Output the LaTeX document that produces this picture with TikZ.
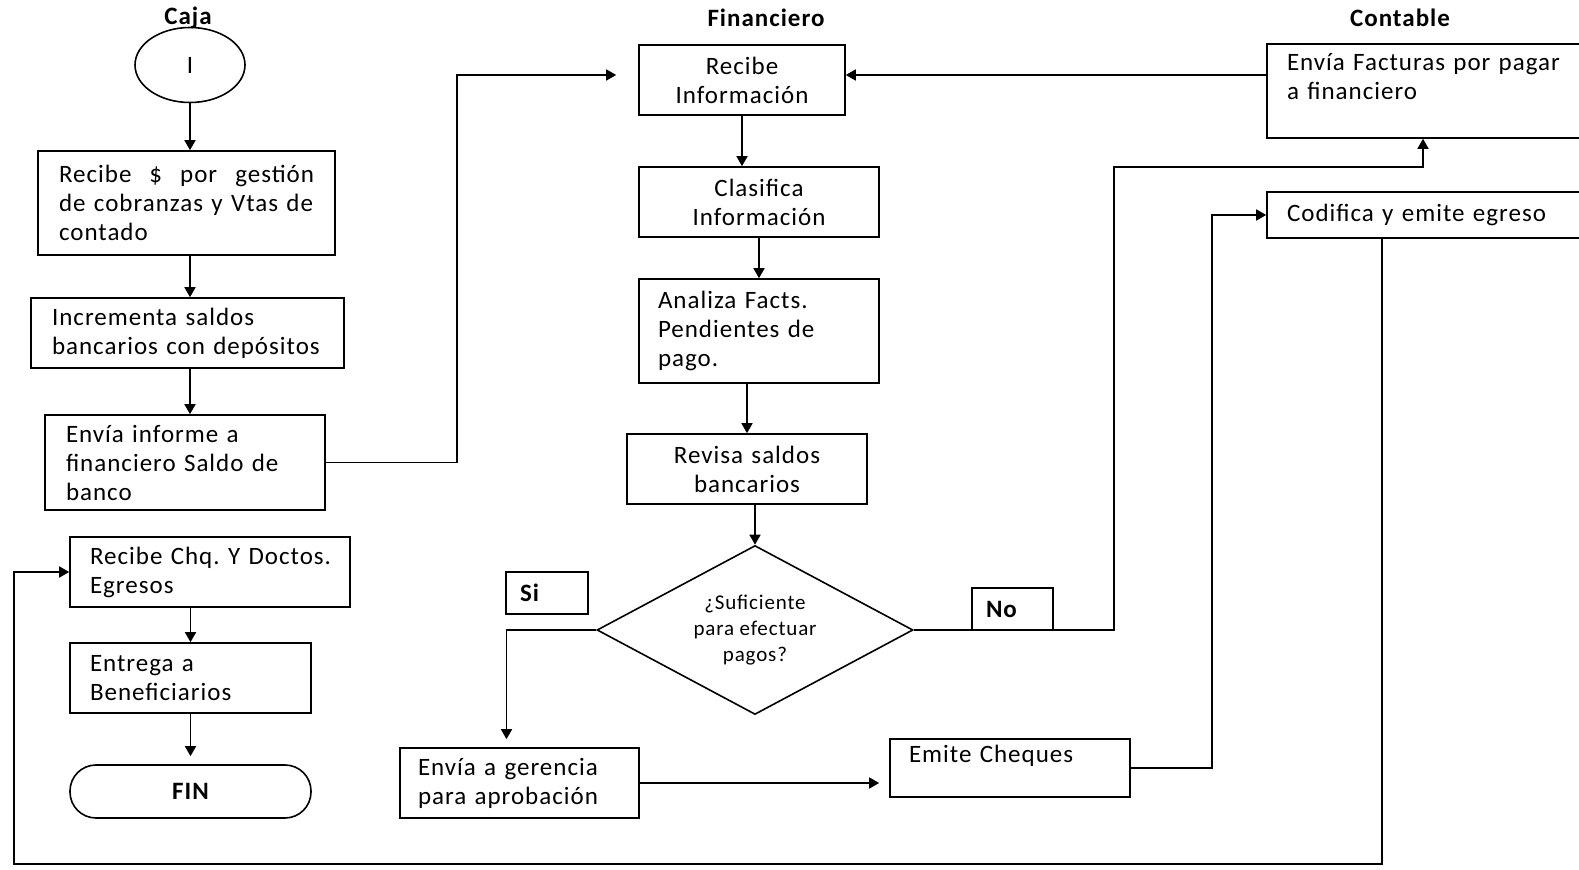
\documentclass[tikz,border=0pt]{standalone}
\usepackage{fontspec}
\setmainfont{Carlito}[LetterSpace=4]
\usetikzlibrary{shapes.geometric,arrows.meta}

\tikzset{
  every node/.style={font=\fontsize{12.5}{14.5}\selectfont\frenchspacing},
  titulo/.style={font=\fontsize{12.5}{14.5}\selectfont\bfseries},
  caja/.style={draw, rectangle, line width=0.8pt, align=left, inner ysep=0pt},
  cajac/.style={draw, rectangle, line width=0.8pt, align=center, inner xsep=3pt, inner ysep=0pt},
  etiq/.style={draw, rectangle, line width=0.8pt, align=left, inner ysep=0pt, font=\fontsize{12.5}{14.5}\selectfont\bfseries},
}

\begin{document}
\begin{tikzpicture}[x=0.5pt, y=-0.5pt, line width=0.8pt, >={Triangle[length=5pt,width=5.5pt]}]

        \clip (0,0) rectangle (1579,870);

        \node[titulo] (tcaja) at (188,18) {Caja};
        \node[titulo] (tfin) at (766,18) {Financiero};
        \node[titulo] (tcont) at (1400,18) {Contable};

        \node[draw, ellipse, minimum width=55pt, minimum height=37.5pt, inner sep=0pt] (ini) at (190,65) {I};
        \node[caja, text width=127.5pt, inner xsep=10.5pt, minimum height=52pt] (b1) at (186.5,203) {Recibe \hfill \$ \hfill por \hfill gestión\\de cobranzas y Vtas de\\contado};
        \node[caja, text width=135.5pt, inner xsep=10.5pt, minimum height=35pt] (b2) at (187.5,333) {Incrementa saldos\\bancarios con depósitos};
        \node[caja, text width=119pt, inner xsep=10.5pt, minimum height=47.5pt] (b3) at (185,462.5) {Envía informe a\\financiero Saldo de\\banco};
        \node[caja, text width=120pt, inner xsep=10pt, minimum height=35pt] (recchq) at (210,572) {\mbox{Recibe Chq. Y Doctos.}\\Egresos};
        \node[caja, text width=100.5pt, inner xsep=10pt, minimum height=35pt] (entrega) at (190.5,678) {Entrega a\\Beneficiarios};
        \node[draw, rectangle, rounded corners=13pt, minimum width=120.5pt, minimum height=26.5pt, font=\fontsize{12.5}{14.5}\selectfont\bfseries] (fin) at (190.5,791.5) {FIN};

        \node[cajac, text width=97pt, minimum height=35pt] (recinfo) at (742,80) {Recibe\\Información};
        \node[cajac, text width=114pt, minimum height=35pt] (clasif) at (759,202) {Clasifica\\Información};
        \node[caja, text width=101pt, inner xsep=9.5pt, minimum height=52pt] (analiza) at (759,331) {Analiza Facts.\\Pendientes de\\pago.};
        \node[cajac, text width=114pt, minimum height=35pt] (revisa) at (747,469) {Revisa saldos\\bancarios};
        \node[draw, diamond, aspect=1.87, minimum width=158pt, minimum height=84.5pt, inner sep=0pt, align=center, font=\fontsize{10.5}{13.2}\selectfont] (dec) at (755,630) {¿Suficiente\\para efectuar\\pagos?};
        \node[etiq, text width=27pt, inner xsep=7pt, minimum height=21pt] (si) at (547,593) {Si};
        \node[etiq, text width=26.5pt, inner xsep=7pt, minimum height=21pt] (no) at (1012.5,609) {No};
        \node[caja, text width=101.5pt, inner xsep=9pt, minimum height=35pt] (ger) at (519.5,783) {Envía a gerencia\\para aprobación};
        \node[caja, text width=101pt, inner xsep=9.5pt, minimum height=29pt] (emite) at (1010,768) {Emite Cheques\\\mbox{}};

        \node[caja, text width=141.5pt, inner xsep=10pt, minimum height=47pt] (fact) at (1428.5,91) {Envía Facturas por pagar\\a financiero\\\mbox{}};
        \node[caja, text width=141.5pt, inner xsep=10pt, minimum height=23pt] (codif) at (1428.5,215) {Codifica y emite egreso};

        \coordinate (q1) at (457,75);
        \coordinate (q2) at (1212,768);
        \coordinate (q3) at (1114,167);
        \coordinate (q4) at (1382,864);
        \coordinate (q5) at (14,864);

        \draw[->] (ini.south) -- (ini.south |- b1.north);
        \draw[->] (b1.south -| ini.south) -- (b2.north -| ini.south);
        \draw[->] (b2.south -| ini.south) -- (b3.north -| ini.south);
        \draw[->, shorten >=11pt] (b3.east) -| (q1) -- (q1 -| recinfo.west);
        \draw[->] (recchq.south -| entrega.north) -- (entrega.north);
        \draw[->, shorten >=4pt] (entrega.south) -- (fin.north);

        \draw[->] (fact.west |- q1) -- (recinfo.east |- q1);
        \draw[->] (recinfo.south) -- (recinfo.south |- clasif.north);
        \draw[->] (clasif.south) -- (analiza.north);
        \draw[->] (analiza.south -| revisa.north) -- (revisa.north);
        \draw[->] (revisa.south -| dec.north) -- (dec.north);
        \draw[->, shorten >=4pt] (dec.west) -| ([xshift=-6.5pt]ger.north);
        \draw[->, shorten >=5pt] (ger.east) -- (ger.east -| emite.west);
        \draw[->] (emite.east) -- (q2) |- (codif.west);
        \draw[->] (dec.east) -| (q3) -| ([xshift=-2.75pt]fact.south);
        \draw[->] (codif.south -| q4) -- (q4) -- (q5) |- (recchq.west);
    \end{tikzpicture}
\end{document}
